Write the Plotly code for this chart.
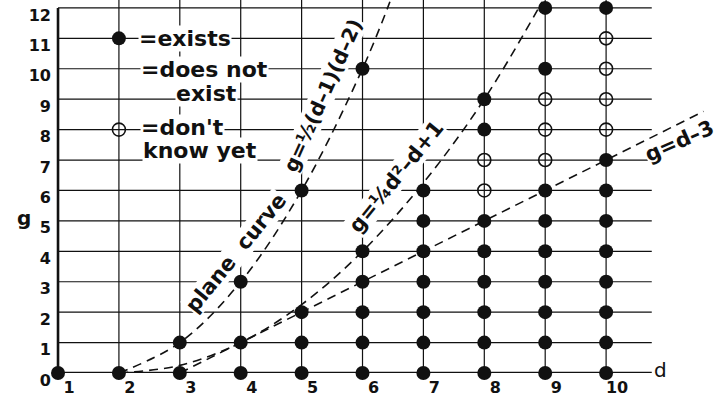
import plotly.graph_objects as go

# degree d and genus g of the lattice points
d_ticks = [1, 2, 3, 4, 5, 6, 7, 8, 9, 10]
g_ticks = [0, 1, 2, 3, 4, 5, 6, 7, 8, 9, 10, 11, 12]

# curves that exist (filled) and unknown ones (open)
exists_d = [1, 2, 3, 3, 4, 4, 4, 5, 5, 5, 5,
            6, 6, 6, 6, 6, 6,
            7, 7, 7, 7, 7, 7, 7,
            8, 8, 8, 8, 8, 8, 8, 8,
            9, 9, 9, 9, 9, 9, 9, 9, 9,
            10, 10, 10, 10, 10, 10, 10, 10, 10]
exists_g = [0, 0, 0, 1, 0, 1, 3, 0, 1, 2, 6,
            0, 1, 2, 3, 4, 10,
            0, 1, 2, 3, 4, 5, 6,
            0, 1, 2, 3, 4, 5, 8, 9,
            0, 1, 2, 3, 4, 5, 6, 10, 12,
            0, 1, 2, 3, 4, 5, 6, 7, 12]
unknown_d = [8, 8, 9, 9, 9, 10, 10, 10, 10]
unknown_g = [6, 7, 7, 8, 9, 8, 9, 10, 11]

# dashed bounds
plane_d = [2, 3, 4, 5, 6, 6.45]
plane_g = [0, 1, 3, 6, 10, 12.2]
quarter_d = [2, 3, 4, 5, 6, 7, 8, 8.95]
quarter_g = [0, 0.25, 1, 2.25, 4, 6.25, 9, 12.2]
linear_d = [3, 11.6]
linear_g = [0, 8.6]

# legend symbols
legend_exists = ([2], [11])
legend_unknown = ([2], [8])

FONT = "DejaVu Sans"
INK = "#111111"
DASH = "9px,6px"
d_end = 10.75
g_top = 12.26

fig = go.Figure()

# grid drawn as shapes so it stops where the original stops
shapes = []
for d in d_ticks[1:]:
    shapes.append(dict(type="line", xref="x", yref="y", x0=d, x1=d, y0=0, y1=g_top,
                       line=dict(color=INK, width=1.2), layer="below"))
for g in g_ticks[1:]:
    shapes.append(dict(type="line", xref="x", yref="y", x0=d_ticks[0], x1=d_end, y0=g, y1=g,
                       line=dict(color=INK, width=1.2), layer="below"))
shapes.append(dict(type="line", xref="x", yref="y", x0=d_ticks[0], x1=d_ticks[0], y0=0, y1=g_ticks[-1],
                   line=dict(color=INK, width=2.6), layer="below"))
shapes.append(dict(type="line", xref="x", yref="y", x0=d_ticks[0], x1=d_end, y0=0, y1=0,
                   line=dict(color=INK, width=2.6), layer="below"))

for xs, ys, shape in [(plane_d, plane_g, "spline"), (quarter_d, quarter_g, "spline"),
                      (linear_d, linear_g, "linear")]:
    fig.add_trace(go.Scatter(x=xs, y=ys, mode="lines",
                             line=dict(color=INK, width=1.6, dash=DASH, shape=shape),
                             hoverinfo="skip", showlegend=False))

filled = dict(symbol="circle", size=14, color=INK)
hollow = dict(symbol="circle-open", size=13, color=INK, line=dict(width=1.6, color=INK))
for xs, ys, mk in [(exists_d, exists_g, filled), (unknown_d, unknown_g, hollow),
                   (*legend_exists, filled), (*legend_unknown, hollow)]:
    fig.add_trace(go.Scatter(x=xs, y=ys, mode="markers", marker=mk,
                             cliponaxis=False, showlegend=False))

lab = dict(family=FONT, size=22, color=INK, weight="bold")
cur = dict(family=FONT, size=21, color=INK, weight="bold")
annotations = [
    dict(x=2.31, y=11.0, text="=exists", xanchor="left", font=lab),
    dict(x=2.34, y=9.97, text="=does not", xanchor="left", font=lab),
    dict(x=3.44, y=9.2, text="exist", xanchor="center", font=lab),
    dict(x=2.34, y=8.06, text="=don't", xanchor="left", font=lab),
    dict(x=2.38, y=7.3, text="know yet", xanchor="left", font=lab),
    dict(x=3.92, y=3.95, text="plane  curve", textangle=-51, font=cur),
    dict(x=5.35, y=9.14, text="g=½(d–1)(d–2)", textangle=-66,
         font=dict(family=FONT, size=20, color=INK, weight="bold")),
    dict(x=6.55, y=6.45, text="g=¼d²–d+1", textangle=-51, font=cur),
    dict(x=11.21, y=7.63, text="g=d–3", textangle=-24, font=cur),
    dict(x=10.9, y=0.1, text="d", font=dict(family=FONT, size=20, color=INK)),
]
for a in annotations:
    a.update(xref="x", yref="y", showarrow=False, bgcolor="white", borderpad=0)
    a.setdefault("yanchor", "middle")
# the g label sits left of the axis range, so place it on the paper
annotations.append(dict(xref="paper", yref="y", x=-0.0586, y=5.1, text="g", showarrow=False,
                        font=dict(family=FONT, size=20, color=INK, weight="bold")))

tick_font = dict(family=FONT, size=16, color=INK, weight="bold")
fig.update_layout(
    width=719, height=397,
    margin=dict(l=54, r=0, t=0, b=24),
    paper_bgcolor="white", plot_bgcolor="white",
    shapes=shapes, annotations=annotations,
    xaxis=dict(range=[0.934, 11.854], tickvals=d_ticks, ticktext=[str(v) for v in d_ticks],
               showgrid=False, zeroline=False, showline=False, tickfont=tick_font,
               ticklabelshift=11, ticklabelstandoff=3, fixedrange=True),
    yaxis=dict(range=[0, g_top], tickvals=g_ticks, ticktext=[str(v) for v in g_ticks],
               showgrid=False, zeroline=False, showline=False, tickfont=tick_font,
               ticklabelshift=7, ticklabelstandoff=2, fixedrange=True),
    showlegend=False,
)

fig.write_html("out.html", config={"displayModeBar": False},
               post_script="document.body.style.margin='0';")
